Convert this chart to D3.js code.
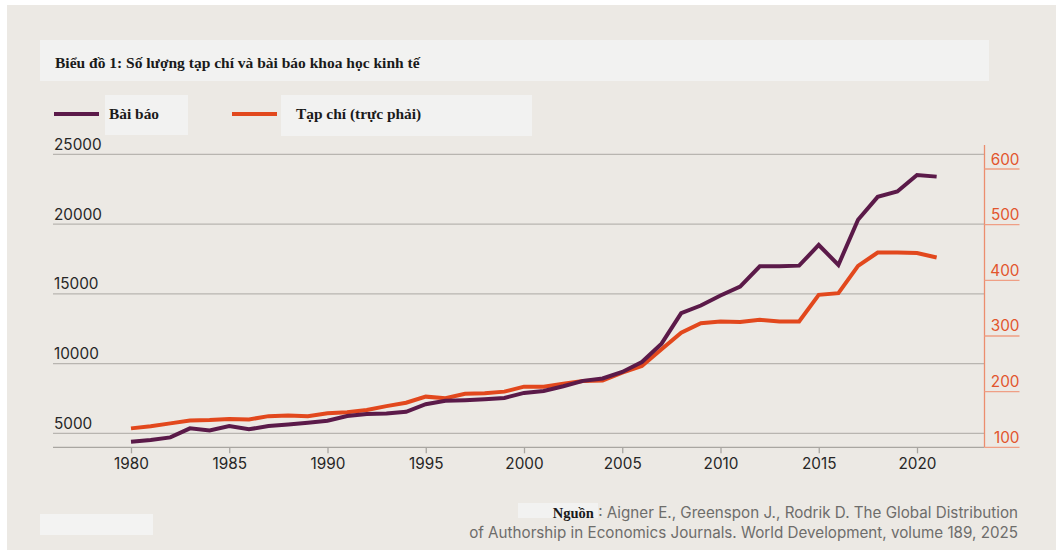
<!DOCTYPE html>
<html>
<head>
<meta charset="utf-8">
<script src="https://cdn.jsdelivr.net/npm/d3@7"></script>
<style>
body { margin: 0; background: #fff; }
svg { display: block; }
</style>
</head>
<body>
<svg id="chart"></svg>
<script>
// data
var years = [1980, 1981, 1982, 1983, 1984, 1985, 1986, 1987, 1988, 1989,
  1990, 1991, 1992, 1993, 1994, 1995, 1996, 1997, 1998, 1999,
  2000, 2001, 2002, 2003, 2004, 2005, 2006, 2007, 2008, 2009,
  2010, 2011, 2012, 2013, 2014, 2015, 2016, 2017, 2018, 2019,
  2020, 2021];
var articles = [4400, 4520, 4710, 5360, 5210, 5520, 5290, 5520, 5640, 5760,
  5900, 6240, 6380, 6430, 6540, 7090, 7330, 7380, 7450, 7540,
  7900, 8040, 8380, 8760, 8930, 9400, 10110, 11430, 13610, 14160,
  14880, 15520, 16970, 16970, 17020, 18500, 17070, 20310, 21950, 22330,
  23520, 23400];
var journals = [134, 138, 143, 148, 149, 151, 150, 156, 157, 156,
  161, 163, 167, 174, 180, 191, 188, 196, 197, 200,
  209, 209, 214, 219, 220, 234, 246, 276, 306, 323,
  326, 325, 329, 326, 326, 374, 377, 426, 450, 450,
  449, 441];
var leftTicks = [5000, 10000, 15000, 20000, 25000];
var rightTicks = [100, 200, 300, 400, 500, 600];
var xTicks = [1980, 1985, 1990, 1995, 2000, 2005, 2010, 2015, 2020];

var W = 1056, H = 550;
var purple = "#5b1a49", orange = "#e2481d";
var sansFont = "Inter, 'Noto Sans', sans-serif";
var serifFont = "'Liberation Serif', 'DejaVu Serif', serif";

var svg = d3.select("#chart").attr("width", W).attr("height", H);

// background + pale patches
svg.append("rect").attr("x", 7).attr("y", 5).attr("width", W - 7).attr("height", H - 5).attr("fill", "#ece9e4");
svg.append("rect").attr("x", 40).attr("y", 40).attr("width", 949).attr("height", 41).attr("fill", "#f2f2f1");
svg.append("rect").attr("x", 105).attr("y", 95).attr("width", 83).attr("height", 40).attr("fill", "#f2f2f1");
svg.append("rect").attr("x", 281).attr("y", 95).attr("width", 251).attr("height", 41).attr("fill", "#f2f2f1");
svg.append("rect").attr("x", 40).attr("y", 514).attr("width", 113).attr("height", 21).attr("fill", "#f3f3f2");
svg.append("rect").attr("x", 518).attr("y", 503).attr("width", 80).attr("height", 15).attr("fill", "#f2f2f1");

// title
svg.append("text").attr("x", 55).attr("y", 68)
  .attr("font-family", serifFont).attr("font-weight", "bold").attr("font-size", 15.5)
  .attr("fill", "#1a1a1a")
  .text("Biểu đồ 1: Số lượng tạp chí và bài báo khoa học kinh tế");

// legend
var legend = [
  {name: "Bài báo", color: purple, x: 54, tx: 109},
  {name: "Tạp chí (trực phải)", color: orange, x: 232, tx: 296}
];
legend.forEach(function(l) {
  svg.append("line").attr("x1", l.x).attr("x2", l.x + 45).attr("y1", 114).attr("y2", 114)
    .attr("stroke", l.color).attr("stroke-width", 4);
  svg.append("text").attr("x", l.tx).attr("y", 119)
    .attr("font-family", serifFont).attr("font-weight", "bold").attr("font-size", 15.4)
    .attr("fill", "#1a1a1a").text(l.name);
});

// scales
var x = d3.scaleLinear().domain([1980, 2020]).range([131, 917]);
var yL = d3.scaleLinear().domain([4000, 25000]).range([447.3, 154.3]);
var yR = d3.scaleLinear().domain([100, 600]).range([447.3, 169]);
var left = 53, axisX = 984.5;

// left gridlines + labels
var grid = svg.append("g");
grid.selectAll("line").data(leftTicks).enter().append("line")
  .attr("x1", left).attr("x2", axisX)
  .attr("y1", function(d) { return yL(d); }).attr("y2", function(d) { return yL(d); })
  .attr("stroke", "#b8b5b0").attr("stroke-width", 1.3);
grid.selectAll("text").data(leftTicks).enter().append("text")
  .attr("x", left + 1).attr("y", function(d) { return yL(d) - 4.5; })
  .attr("font-family", sansFont).attr("font-size", 15.3).attr("fill", "#262626")
  .text(function(d) { return d; });

// x axis
var xAxis = d3.axisBottom(x).tickValues(xTicks).tickFormat(d3.format("d")).tickSize(6).tickSizeOuter(0).tickPadding(5);
var gx = svg.append("g").attr("transform", "translate(0,447.3)").call(xAxis);
gx.select(".domain").remove();
gx.selectAll(".tick line").attr("stroke", "#a9a6a1").attr("stroke-width", 1.3);
gx.selectAll(".tick text").attr("font-family", sansFont).attr("font-size", 15.3).attr("fill", "#262626");
svg.append("line").attr("x1", left).attr("x2", axisX).attr("y1", 447.3).attr("y2", 447.3)
  .attr("stroke", "#a9a6a1").attr("stroke-width", 1.3);

// right axis
var gr = svg.append("g").attr("transform", "translate(" + axisX + ",0)");
gr.append("line").attr("y1", 145).attr("y2", 447.3).attr("stroke", "#ec8d6e").attr("stroke-width", 1.3);
gr.selectAll(".rt").data(rightTicks).enter().append("line").attr("class", "rt")
  .attr("x1", 0).attr("x2", 35)
  .attr("y1", function(d) { return yR(d); }).attr("y2", function(d) { return yR(d); })
  .attr("stroke", "#ef9f85").attr("stroke-width", 1.3);
gr.selectAll("text").data(rightTicks).enter().append("text")
  .attr("x", 35).attr("y", function(d) { return yR(d) - 4.5; })
  .attr("text-anchor", "end")
  .attr("font-family", sansFont).attr("font-size", 15.3).attr("fill", "#e2552d")
  .text(function(d) { return d; });

// lines
var lineR = d3.line().x(function(d, i) { return x(years[i]); }).y(function(d) { return yR(d); });
var lineL = d3.line().x(function(d, i) { return x(years[i]); }).y(function(d) { return yL(d); });
svg.append("path").datum(journals).attr("d", lineR)
  .attr("fill", "none").attr("stroke", orange).attr("stroke-width", 4);
svg.append("path").datum(articles).attr("d", lineL)
  .attr("fill", "none").attr("stroke", purple).attr("stroke-width", 4);

// source
var src = svg.append("text").attr("x", 1018).attr("y", 518).attr("text-anchor", "end")
  .attr("font-size", 15.2).attr("fill", "#6e6d6b").attr("font-family", sansFont);
src.append("tspan").attr("font-family", serifFont).attr("font-weight", "bold").attr("fill", "#1a1a1a").attr("font-size", 14.5).text("Nguồn");
src.append("tspan").text(" : Aigner E., Greenspon J., Rodrik D. The Global Distribution");
svg.append("text").attr("x", 1018).attr("y", 538).attr("text-anchor", "end")
  .attr("font-size", 15.2).attr("fill", "#6e6d6b").attr("font-family", sansFont)
  .text("of Authorship in Economics Journals. World Development, volume 189, 2025");
</script>
</body>
</html>
